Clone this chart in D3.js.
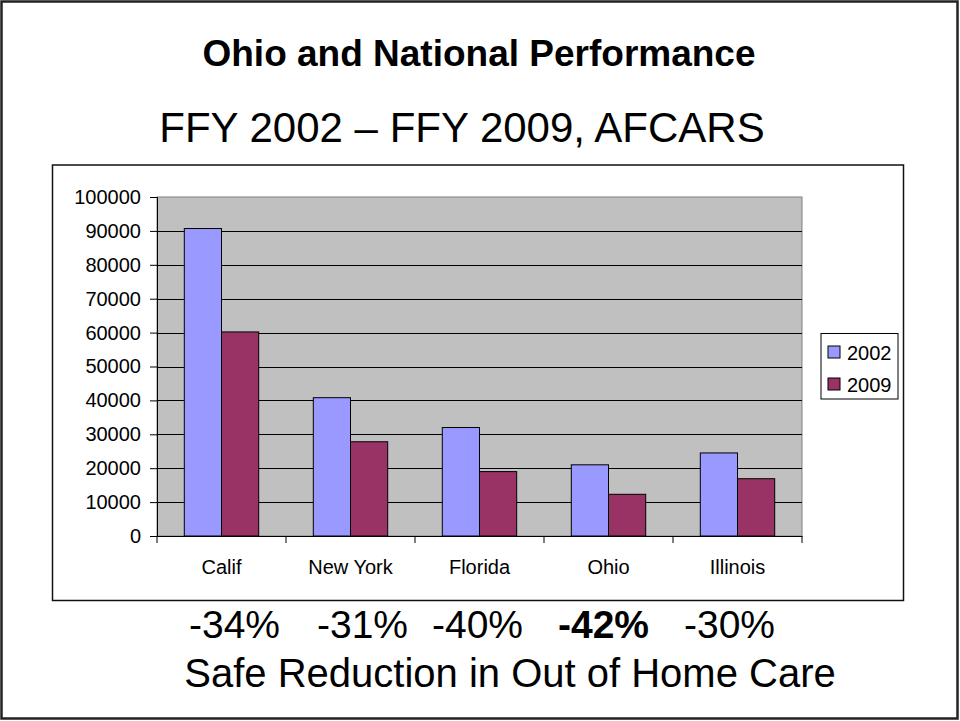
<!DOCTYPE html>
<html>
<head>
<meta charset="utf-8">
<script src="https://cdn.jsdelivr.net/npm/d3@7"></script>
<style>
  html, body { margin: 0; padding: 0; background: #fff; }
  svg { display: block; font-family: "Liberation Sans", Arial, sans-serif; }
</style>
</head>
<body>
<svg id="chart" width="960" height="721"></svg>
<script>
const categories = ["Calif", "New York", "Florida", "Ohio", "Illinois"];
const seriesNames = ["2002", "2009"];
const values2002 = [90700, 40800, 32000, 21000, 24500];
const values2009 = [60200, 27800, 19000, 12300, 16900];
const yTicks = [0, 10000, 20000, 30000, 40000, 50000, 60000, 70000, 80000, 90000, 100000];
const pctLabels = ["-34%", "-31%", "-40%", "-42%", "-30%"];
const pctBold = [false, false, false, true, false];
const seriesColors = ["#9999FF", "#993366"];

const svg = d3.select("#chart");

// outer slide frame
svg.append("rect").attr("x", 1.5).attr("y", 1.5).attr("width", 956).attr("height", 717)
  .attr("fill", "#fff").attr("stroke", "#222").attr("stroke-width", 2.5);

// titles
svg.append("text").attr("x", 479).attr("y", 66).attr("text-anchor", "middle")
  .attr("font-size", 37).attr("font-weight", "bold").text("Ohio and National Performance");
svg.append("text").attr("x", 462).attr("y", 142).attr("text-anchor", "middle")
  .attr("font-size", 42).text("FFY 2002 \u2013 FFY 2009, AFCARS");

// chart box
svg.append("rect").attr("x", 52.5).attr("y", 165).attr("width", 851).attr("height", 435.5)
  .attr("fill", "#fff").attr("stroke", "#111").attr("stroke-width", 1.5);

const plot = { left: 157, right: 802, top: 197, bottom: 536 };

const y = d3.scaleLinear().domain([0, 100000]).range([plot.bottom, plot.top]);
const x0 = d3.scaleBand().domain(categories).range([plot.left, plot.right]).paddingInner(0).paddingOuter(0);
const x1 = d3.scaleBand().domain(seriesNames).range([0, x0.bandwidth()]).paddingInner(0).paddingOuter(0.734);

// plot area background
svg.append("rect").attr("x", plot.left).attr("y", plot.top)
  .attr("width", plot.right - plot.left).attr("height", plot.bottom - plot.top)
  .attr("fill", "#C0C0C0").attr("stroke", "#808080").attr("stroke-width", 1);

// gridlines
svg.append("g").selectAll("line").data(yTicks.filter(d => d > 0 && d < 100000)).join("line")
  .attr("x1", plot.left).attr("x2", plot.right)
  .attr("y1", d => Math.round(y(d)) + 0.5).attr("y2", d => Math.round(y(d)) + 0.5)
  .attr("stroke", "#000").attr("stroke-width", 1);

// bars
const data = categories.map((c, i) => ({ cat: c, vals: [values2002[i], values2009[i]] }));
const groups = svg.append("g").selectAll("g").data(data).join("g")
  .attr("transform", d => `translate(${x0(d.cat)},0)`);
groups.selectAll("rect").data(d => d.vals.map((v, j) => ({ s: seriesNames[j], v, j }))).join("rect")
  .attr("x", d => x1(d.s)).attr("width", x1.bandwidth())
  .attr("y", d => y(d.v)).attr("height", d => y(0) - y(d.v))
  .attr("fill", d => seriesColors[d.j]).attr("stroke", "#000").attr("stroke-width", 1);

// y axis
const yAxis = d3.axisLeft(y).tickValues(yTicks).tickSize(7).tickPadding(9).tickFormat(d3.format("d"));
const gy = svg.append("g").attr("transform", `translate(${plot.left},0)`).call(yAxis);
gy.select(".domain").attr("stroke", "#000");
gy.selectAll(".tick line").attr("stroke", "#000");
gy.selectAll(".tick text").attr("font-size", 20).attr("fill", "#000")
  .attr("font-family", "'Liberation Sans', Arial, sans-serif");

// x axis
const xAxis = d3.axisBottom(x0).tickSize(0).tickPadding(24);
const gx = svg.append("g").attr("transform", `translate(0,${plot.bottom})`).call(xAxis);
gx.select(".domain").attr("stroke", "#000");
gx.selectAll(".tick text").attr("font-size", 20).attr("fill", "#000")
  .attr("font-family", "'Liberation Sans', Arial, sans-serif");
// category separator ticks
const sepX = categories.map(c => x0(c)).concat([x0(categories[categories.length - 1]) + x0.bandwidth()]);
gx.selectAll("line.sep").data(sepX).join("line").attr("class", "sep")
  .attr("x1", d => d).attr("x2", d => d).attr("y1", 0).attr("y2", 7)
  .attr("stroke", "#000");

// legend
const lg = svg.append("g");
lg.append("rect").attr("x", 821).attr("y", 333.5).attr("width", 77).attr("height", 65.5)
  .attr("fill", "#fff").attr("stroke", "#000").attr("stroke-width", 1);
seriesNames.forEach((s, i) => {
  const yy = 346 + i * 32;
  lg.append("rect").attr("x", 828).attr("y", yy).attr("width", 12).attr("height", 12)
    .attr("fill", seriesColors[i]).attr("stroke", "#000").attr("stroke-width", 1);
  lg.append("text").attr("x", 847).attr("y", yy + 13.5).attr("font-size", 20).text(s);
});

// percentage line
const pctX = [189, 317, 432, 558, 684];
svg.append("g").selectAll("text").data(pctLabels).join("text")
  .attr("x", (d, i) => pctX[i]).attr("y", 638)
  .attr("font-size", 39).attr("font-weight", (d, i) => pctBold[i] ? "bold" : "normal")
  .text(d => d);

svg.append("text").attr("x", 510).attr("y", 687).attr("text-anchor", "middle")
  .attr("font-size", 40).text("Safe Reduction in Out of Home Care");
</script>
</body>
</html>
